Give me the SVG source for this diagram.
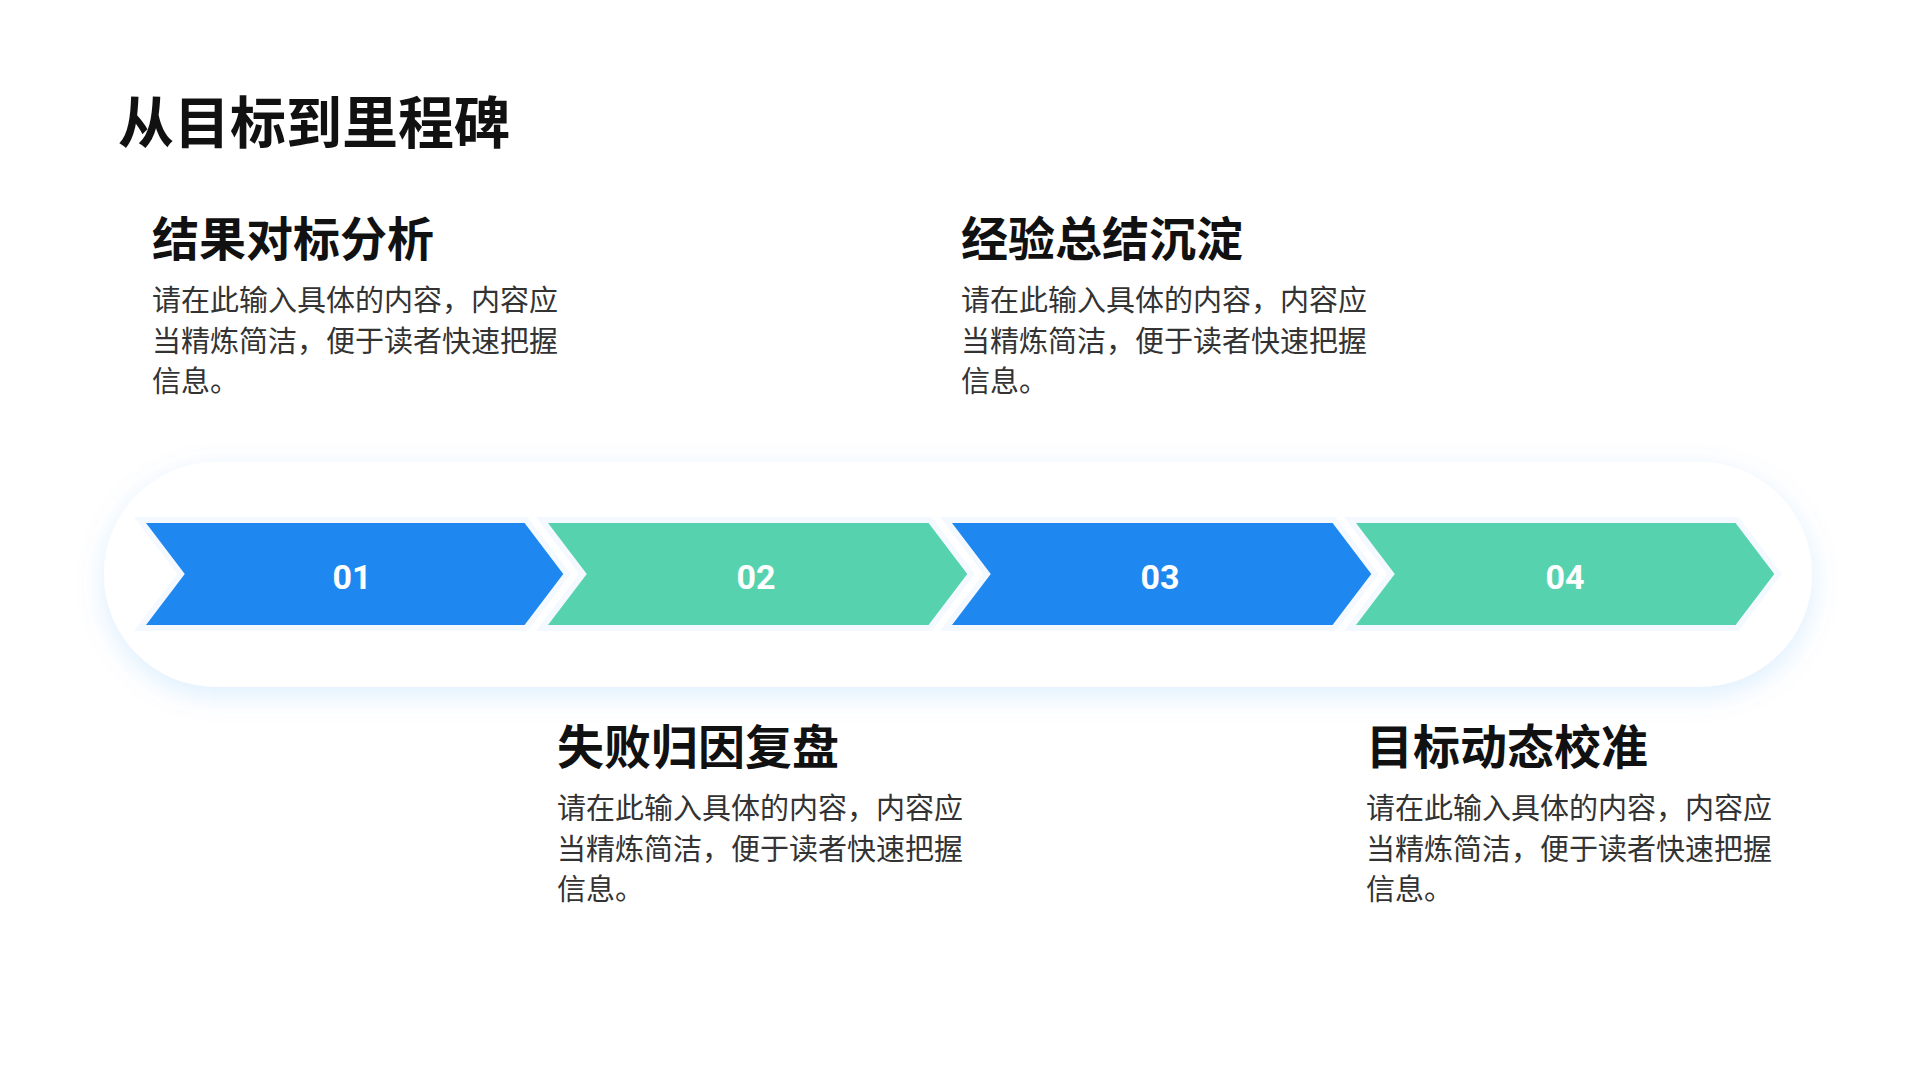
<svg xmlns="http://www.w3.org/2000/svg" width="1920" height="1080" viewBox="0 0 1920 1080">
<defs>
<filter id="sh" x="-10%" y="-40%" width="120%" height="180%"><feGaussianBlur in="SourceAlpha" stdDeviation="12"/><feOffset dy="6"/><feComponentTransfer><feFuncA type="linear" slope="0.12"/></feComponentTransfer><feFlood flood-color="#1E88F0"/><feComposite operator="in" in2="SourceAlpha"/></filter>
<filter id="sh2" x="-10%" y="-40%" width="120%" height="180%"><feGaussianBlur in="SourceAlpha" stdDeviation="14" result="b"/><feOffset in="b" dy="8" result="o"/><feFlood flood-color="#1E88F0" flood-opacity="0.14"/><feComposite in2="o" operator="in" result="s"/><feMerge><feMergeNode in="s"/><feMergeNode in="SourceGraphic"/></feMerge></filter>
</defs>
<style>
.t{font-family:"Noto Sans CJK SC","Liberation Sans",sans-serif;font-weight:700;fill:#111}
.h{font-family:"Noto Sans CJK SC","Liberation Sans",sans-serif;font-weight:700;font-size:47px;fill:#111}
.b{font-family:"Noto Sans CJK SC","Liberation Sans",sans-serif;font-size:29px;fill:#333}
.n{font-family:Roboto,"Liberation Sans",sans-serif;font-weight:700;font-size:34px;fill:#fff}
.blue{fill:#1E88F0;stroke:#F4F9FF;stroke-width:6;stroke-linejoin:miter}
.green{fill:#56D3AE;stroke:#F4F9FF;stroke-width:6;stroke-linejoin:miter}
</style>
<rect width="1920" height="1080" fill="#fff"/>
<text class="t" x="118" y="143" font-size="56">从目标到里程碑</text>
<rect x="104" y="462" width="1708" height="225" rx="112.5" fill="#fff" filter="url(#sh2)"/>
<g id="connectors"></g>
<g id="step1"><polygon class="blue" points="140,520 526,520 567,574 526,628 140,628 181,574"/><text class="n" x="352" y="589" text-anchor="middle">01</text></g>
<g id="step2"><polygon class="green" points="542,520 930,520 971,574 930,628 542,628 583,574"/><text class="n" x="756" y="589" text-anchor="middle">02</text></g>
<g id="step3"><polygon class="blue" points="946,520 1334,520 1375,574 1334,628 946,628 987,574"/><text class="n" x="1160" y="589" text-anchor="middle">03</text></g>
<g id="step4"><polygon class="green" points="1350,520 1737,520 1778,574 1737,628 1350,628 1391,574"/><text class="n" x="1565" y="589" text-anchor="middle">04</text></g>
<g id="t1"><text class="h" x="152" y="256">结果对标分析</text><text class="b" x="152" y="311">请在此输入具体的内容，内容应</text><text class="b" x="152" y="352">当精炼简洁，便于读者快速把握</text><text class="b" x="152" y="392">信息。</text></g>
<g id="t2"><text class="h" x="961" y="256">经验总结沉淀</text><text class="b" x="961" y="311">请在此输入具体的内容，内容应</text><text class="b" x="961" y="352">当精炼简洁，便于读者快速把握</text><text class="b" x="961" y="392">信息。</text></g>
<g id="t3"><text class="h" x="557" y="764">失败归因复盘</text><text class="b" x="557" y="819">请在此输入具体的内容，内容应</text><text class="b" x="557" y="860">当精炼简洁，便于读者快速把握</text><text class="b" x="557" y="900">信息。</text></g>
<g id="t4"><text class="h" x="1366" y="764">目标动态校准</text><text class="b" x="1366" y="819">请在此输入具体的内容，内容应</text><text class="b" x="1366" y="860">当精炼简洁，便于读者快速把握</text><text class="b" x="1366" y="900">信息。</text></g>
</svg>
